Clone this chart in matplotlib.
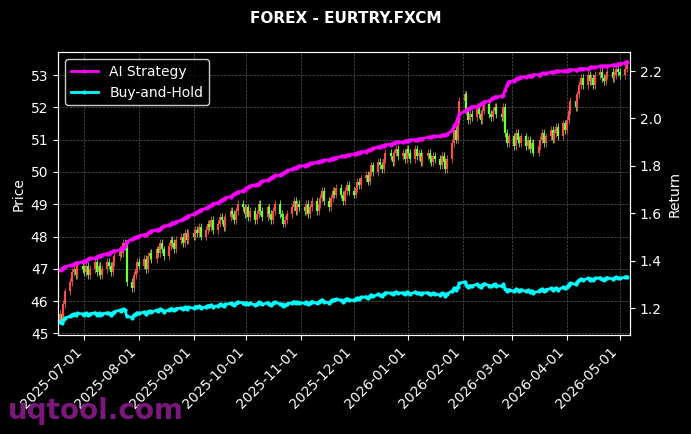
import numpy as np
import pandas as pd
import matplotlib
matplotlib.use("Agg")
import matplotlib.pyplot as plt

### data ###
close_by_month = [
    [45.6, 45.4, 45.9, 46.3, 46.6, 46.9, 47.0, 46.8, 47.1, 47.0],
    [46.9, 47.1, 46.8, 47.0, 47.2, 46.9, 47.1, 46.8, 47.0, 47.2, 47.1, 46.9, 47.2, 47.4, 47.6, 47.5, 47.8, 47.7, 46.6, 46.4, 46.8, 47.0, 47.2],
    [47.1, 47.3, 47.0, 47.4, 47.5, 47.3, 47.6, 47.5, 47.8, 47.6, 47.4, 47.7, 47.9, 47.8, 47.6, 47.9, 48.0, 47.8, 48.1, 47.9, 48.1],
    [48.0, 48.2, 48.1, 48.3, 48.0, 48.2, 48.4, 48.3, 48.5, 48.2, 48.4, 48.6, 48.5, 48.3, 48.6, 48.8, 48.7, 48.5, 48.8, 49.0, 48.9, 48.7],
    [48.9, 48.6, 48.8, 48.5, 48.7, 49.0, 48.8, 48.6, 48.9, 48.7, 48.5, 48.8, 49.0, 48.7, 48.6, 48.4, 48.5, 48.7, 48.9, 49.1, 48.8, 49.0, 48.9],
    [48.8, 49.0, 48.7, 48.9, 49.1, 48.8, 49.0, 49.2, 49.4, 49.1, 48.9, 49.2, 49.4, 49.3, 49.5, 49.3, 49.1, 49.4, 49.6, 49.4],
    [49.3, 49.5, 49.7, 49.6, 49.8, 49.9, 49.7, 50.0, 50.2, 50.0, 50.3, 50.2, 50.1, 50.4, 50.6, 50.5, 50.3, 50.6, 50.7, 50.5, 50.6, 50.4, 50.7],
    [50.6, 50.4, 50.7, 50.5, 50.6, 50.3, 50.5, 50.6, 50.4, 50.3, 50.5, 50.4, 50.2, 50.5, 50.3, 50.1, 50.4, 50.9, 51.3, 51.0, 51.6, 52.2],
    [52.4, 51.9, 51.6, 51.8, 51.7, 52.0, 51.8, 51.6, 51.9, 52.1, 51.8, 51.7, 51.9, 52.0, 51.8, 51.7, 52.0, 51.2, 50.9, 51.1],
    [50.8, 51.2, 51.0, 50.9, 51.1, 50.8, 51.0, 50.7, 50.9, 50.6, 50.8, 51.0, 51.2, 50.9, 51.1, 51.3, 51.0, 51.2, 51.4, 51.1, 51.5, 51.3],
    [51.6, 51.9, 52.2, 52.0, 52.4, 52.7, 52.9, 52.7, 53.0, 52.8, 52.9, 52.7, 53.0, 53.1, 52.9, 52.8, 53.0, 53.1, 52.9, 53.0, 53.2, 53.1],
    [53.0, 53.2, 53.3],
]
ai_by_month = [
    [1.36, 1.365, 1.37, 1.375, 1.38, 1.38, 1.385, 1.39, 1.39, 1.395],
    [1.40, 1.40, 1.405, 1.41, 1.41, 1.415, 1.42, 1.42, 1.425, 1.43, 1.43, 1.435, 1.44, 1.44, 1.445, 1.45, 1.455, 1.46, 1.48, 1.49, 1.495, 1.50, 1.50],
    [1.505, 1.51, 1.51, 1.515, 1.52, 1.525, 1.53, 1.53, 1.535, 1.54, 1.545, 1.55, 1.555, 1.56, 1.56, 1.565, 1.57, 1.575, 1.58, 1.585, 1.59],
    [1.595, 1.60, 1.605, 1.61, 1.615, 1.62, 1.625, 1.63, 1.635, 1.64, 1.645, 1.65, 1.655, 1.66, 1.665, 1.67, 1.675, 1.68, 1.685, 1.69, 1.695, 1.70],
    [1.705, 1.71, 1.715, 1.72, 1.72, 1.725, 1.73, 1.735, 1.74, 1.745, 1.75, 1.755, 1.76, 1.76, 1.765, 1.77, 1.775, 1.78, 1.785, 1.79, 1.79, 1.795, 1.80],
    [1.80, 1.805, 1.805, 1.81, 1.81, 1.815, 1.815, 1.82, 1.82, 1.825, 1.825, 1.83, 1.83, 1.835, 1.835, 1.84, 1.84, 1.84, 1.845, 1.845],
    [1.85, 1.85, 1.855, 1.855, 1.86, 1.86, 1.865, 1.865, 1.87, 1.875, 1.88, 1.88, 1.885, 1.885, 1.89, 1.89, 1.895, 1.895, 1.90, 1.90, 1.90, 1.905, 1.905],
    [1.905, 1.91, 1.91, 1.91, 1.915, 1.915, 1.915, 1.92, 1.92, 1.92, 1.925, 1.925, 1.925, 1.93, 1.93, 1.93, 1.935, 1.95, 1.97, 1.98, 2.0, 2.02],
    [2.03, 2.035, 2.04, 2.045, 2.05, 2.05, 2.055, 2.06, 2.065, 2.07, 2.075, 2.08, 2.085, 2.09, 2.09, 2.095, 2.10, 2.12, 2.14, 2.155],
    [2.16, 2.165, 2.17, 2.17, 2.175, 2.175, 2.18, 2.18, 2.18, 2.185, 2.185, 2.185, 2.19, 2.19, 2.19, 2.195, 2.195, 2.195, 2.20, 2.20, 2.20, 2.20],
    [2.20, 2.205, 2.205, 2.205, 2.205, 2.21, 2.21, 2.21, 2.21, 2.215, 2.215, 2.215, 2.215, 2.22, 2.22, 2.22, 2.22, 2.22, 2.225, 2.225, 2.225, 2.23],
    [2.23, 2.235, 2.24],
]
bh_start = 1.14
dates = pd.bdate_range("2025-06-17", "2026-05-05")
tick_dates = pd.date_range("2025-07-01", "2026-05-01", freq="MS")

close = np.array([v for m in close_by_month for v in m])
ai = np.array([v for m in ai_by_month for v in m])
opens = np.r_[close[0] - 0.2, close[:-1]]
bh = bh_start * close / close[0]

wick = 0.12
up_color = "#f0524a"
down_color = "#6cff3c"

plt.style.use("dark_background")
fig = plt.figure(figsize=(6.91, 4.34), dpi=100)
ax = fig.add_axes([0.084, 0.228, 0.828, 0.652])
ax2 = ax.twinx()

colors = [up_color if c >= o else down_color for o, c in zip(opens, close)]
hi = np.maximum(opens, close) + wick
lo = np.minimum(opens, close) - wick
ax.vlines(dates, lo, hi, colors=colors, lw=0.6)
ax.vlines(dates, opens, close, colors=colors, lw=1.6)

ax2.plot(dates, ai, color="#ff00ff", lw=2, marker="o", ms=2, label="AI Strategy")
ax2.plot(dates, bh, color="#00ffff", lw=2, marker="o", ms=2, label="Buy-and-Hold")

ax.set_ylim(44.95, 53.71)
ax2.set_ylim(1.086, 2.28)
ax.set_xlim(pd.Timestamp("2025-06-16"), pd.Timestamp("2026-05-07"))
ax.set_xticks(tick_dates)
ax.set_xticklabels([d.strftime("%Y-%m-%d") for d in tick_dates], rotation=45, ha="right")
ax.set_ylabel("Price")
ax2.set_ylabel("Return")
ax.grid(True, ls="--", lw=0.5, color="#555555")
ax.tick_params(labelsize=10)
ax2.tick_params(labelsize=10)

leg = ax2.legend(loc="upper left", fontsize=10, facecolor="black", edgecolor="white")
fig.suptitle("FOREX - EURTRY.FXCM", fontsize=11, fontweight="bold", color="white", y=0.975)
fig.text(0.012, 0.035, "uqtool.com", fontsize=20, fontweight="bold", color="#8b1a8b", alpha=0.9)

fig.savefig("out.png", facecolor="black")
